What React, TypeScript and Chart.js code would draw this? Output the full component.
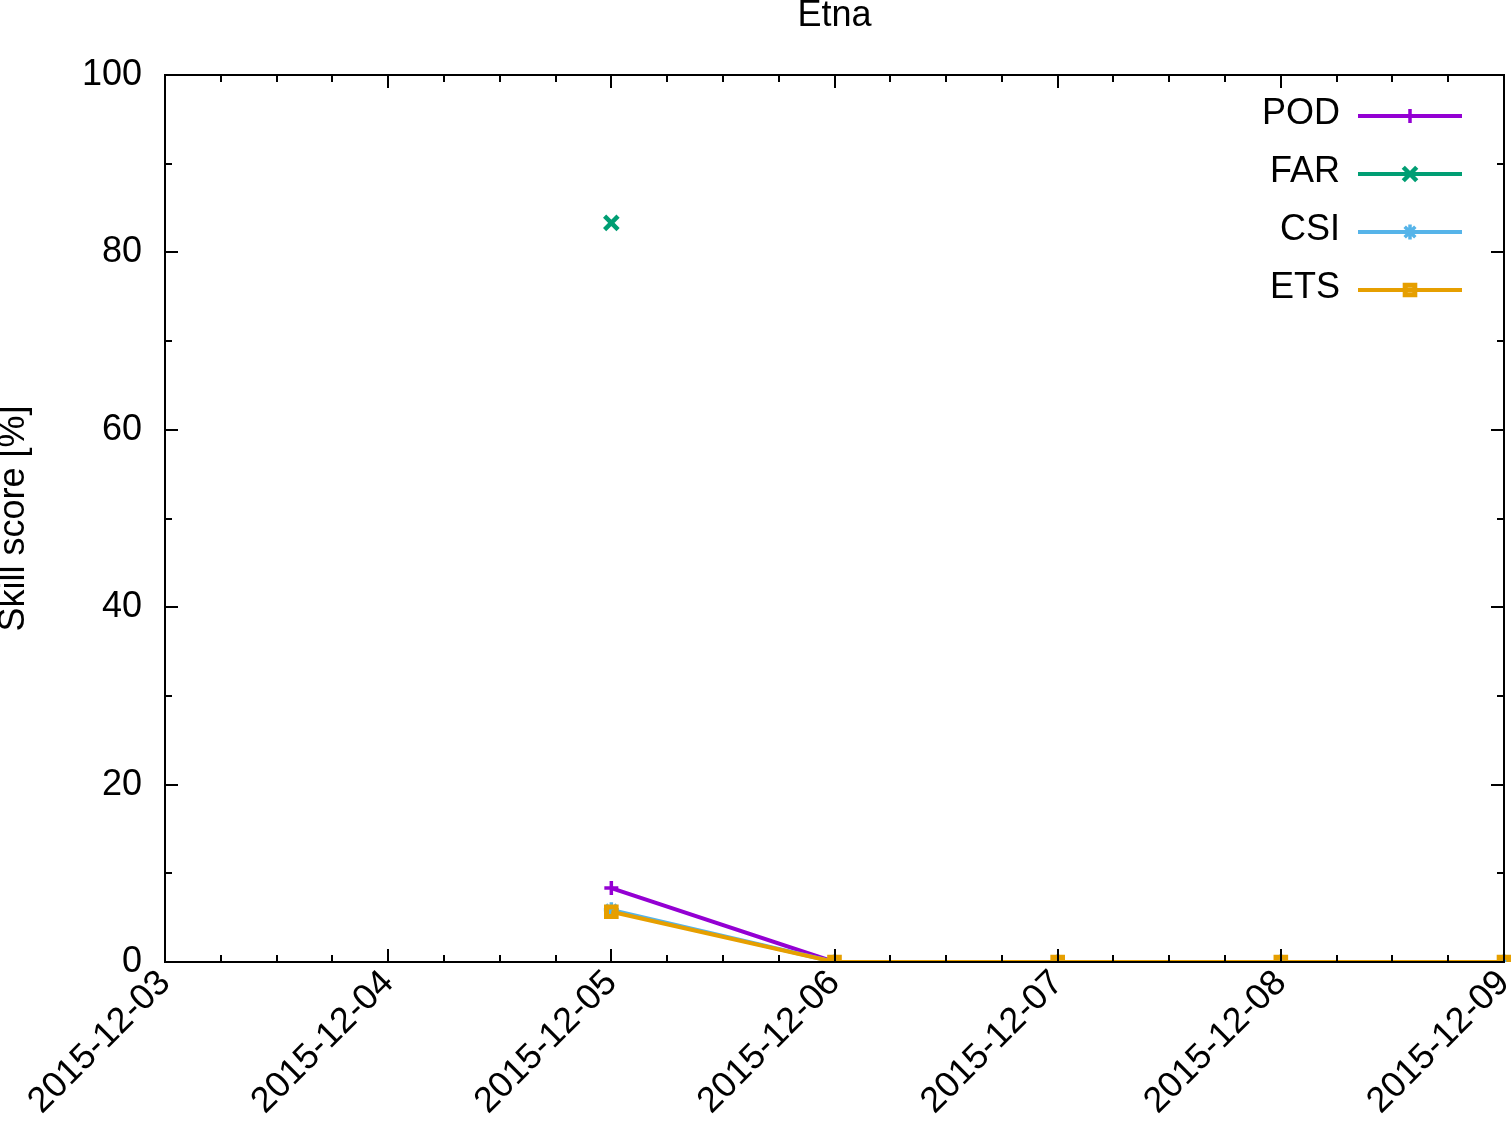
import React, { useEffect, useRef } from 'react';
import { Chart, registerables } from 'chart.js';
import { drawPoint } from 'chart.js/helpers';

Chart.register(...registerables);

const titleText = 'Etna';
const yAxisTitle = 'Skill score [%]';
const dateLabels = ['2015-12-03', '2015-12-04', '2015-12-05', '2015-12-06', '2015-12-07', '2015-12-08', '2015-12-09'];
const seriesNames = ['POD', 'FAR', 'CSI', 'ETS'];
const podValues = [null, null, 8.33, 0, 0, 0, 0];
const farValues = [null, null, 83.33, null, null, null, null];
const csiValues = [null, null, 5.88, 0, 0, 0, 0];
const etsValues = [null, null, 5.66, 0, 0, 0, 0];
const yMin = 0;
const yMax = 100;
const yStep = 20;

const FONT = "'Liberation Sans', Arial, Helvetica, sans-serif";
const W = 1511;
const H = 1126;

const styles = [
  { color: '#9400D3', pointStyle: 'cross', radius: 7, pbw: 3.5 },
  { color: '#009E73', pointStyle: 'crossRot', radius: 9.5, pbw: 4.5 },
  { color: '#56B4E9', pointStyle: 'star', radius: 7.5, pbw: 3.5 },
  { color: '#E69F00', pointStyle: 'rect', radius: 6.8, pbw: 5 },
];

const frameLegendPlugin = {
  id: 'frameLegend',
  afterDatasetsDraw(chart: any) {
    const ctx = chart.ctx;
    const { left, right, top, bottom } = chart.chartArea;
    const xs = chart.scales.x;
    const ys = chart.scales.y;
    ctx.save();
    // title
    ctx.fillStyle = '#000';
    ctx.font = `36px ${FONT}`;
    ctx.textAlign = 'center';
    ctx.textBaseline = 'middle';
    ctx.fillText(titleText, (left + right) / 2, 16);

    ctx.strokeStyle = '#000';
    ctx.lineWidth = 2;
    ctx.strokeRect(left, top, right - left, bottom - top);
    ctx.beginPath();
    const n = dateLabels.length - 1;
    for (let i = 0; i <= n * 4; i++) {
      const v = i / 4;
      const px = Math.round(xs.getPixelForValue(v));
      const len = i % 4 === 0 ? 13 : 7;
      ctx.moveTo(px, bottom);
      ctx.lineTo(px, bottom - len);
      ctx.moveTo(px, top);
      ctx.lineTo(px, top + len);
    }
    for (let v = yMin; v <= yMax; v += yStep / 2) {
      const py = Math.round(ys.getPixelForValue(v));
      const len = v % yStep === 0 ? 13 : 7;
      ctx.moveTo(left, py);
      ctx.lineTo(left + len, py);
      ctx.moveTo(right, py);
      ctx.lineTo(right - len, py);
    }
    ctx.stroke();

    // legend
    const textRight = 1340;
    const lineX0 = 1358;
    const lineX1 = 1462;
    const rowY0 = 115;
    const rowGap = 58;
    ctx.font = `36px ${FONT}`;
    ctx.textAlign = 'right';
    ctx.textBaseline = 'middle';
    seriesNames.forEach((name, i) => {
      const s = styles[i];
      const y = rowY0 + i * rowGap;
      ctx.fillStyle = '#000';
      ctx.fillText(name, textRight, y - 1);
      ctx.strokeStyle = s.color;
      ctx.lineWidth = 4;
      ctx.beginPath();
      ctx.moveTo(lineX0, y + 1);
      ctx.lineTo(lineX1, y + 1);
      ctx.stroke();
      ctx.lineWidth = s.pbw;
      ctx.fillStyle = 'rgba(0,0,0,0)';
      drawPoint(ctx, { pointStyle: s.pointStyle as any, radius: s.radius, rotation: 0, borderWidth: s.pbw }, (lineX0 + lineX1) / 2, y + 1);
    });
    ctx.restore();
  },
};

export default function App() {
  const ref = useRef<HTMLCanvasElement>(null);
  useEffect(() => {
    if (!ref.current) return;
    const seriesValues = [podValues, farValues, csiValues, etsValues];
    const chart = new Chart(ref.current, {
      type: 'line',
      data: {
        labels: dateLabels,
        datasets: seriesNames.map((name, i) => ({
          label: name,
          data: seriesValues[i],
          borderColor: styles[i].color,
          backgroundColor: 'rgba(0,0,0,0)',
          borderWidth: 4,
          pointStyle: styles[i].pointStyle as any,
          pointRadius: styles[i].radius,
          pointBorderWidth: styles[i].pbw,
          pointBorderColor: styles[i].color,
          pointBackgroundColor: 'rgba(0,0,0,0)',
          spanGaps: false,
          tension: 0,
          order: seriesNames.length - i,
        })),
      },
      options: {
        responsive: false,
        animation: false,
        devicePixelRatio: 1,
        layout: { autoPadding: false, padding: { left: 0, right: 7, top: 75, bottom: 0 } },
        plugins: {
          legend: { display: false },
          tooltip: { enabled: false },
          title: { display: false },
        },
        scales: {
          x: {
            type: 'category',
            offset: false,
            grid: { display: false, drawTicks: false },
            border: { display: false },
            ticks: {
              color: '#000',
              font: { family: FONT, size: 36 },
              maxRotation: 45,
              minRotation: 45,
              autoSkip: false,
              padding: 0,
            },
            afterFit: (s: any) => { s.height = 164; s.paddingLeft = 0; s.paddingRight = 0; },
          },
          y: {
            min: yMin,
            max: yMax,
            grid: { display: false, drawTicks: false },
            border: { display: false },
            ticks: {
              stepSize: yStep,
              color: '#000',
              font: { family: FONT, size: 36 },
              padding: 23,
            },
            title: {
              display: true,
              text: yAxisTitle,
              color: '#000',
              font: { family: FONT, size: 36, lineHeight: 0.8 },
              padding: 0,
            },
            afterFit: (s: any) => { s.width = 165; s.paddingTop = 0; s.paddingBottom = 0; },
          },
        },
      },
      plugins: [frameLegendPlugin],
    });
    return () => chart.destroy();
  }, []);
  return (
    <div style={{ position: 'absolute', left: 0, top: 0, width: W, height: H, background: '#fff' }}>
      <canvas ref={ref} width={W} height={H} style={{ width: W, height: H, display: 'block' }} />
    </div>
  );
}
